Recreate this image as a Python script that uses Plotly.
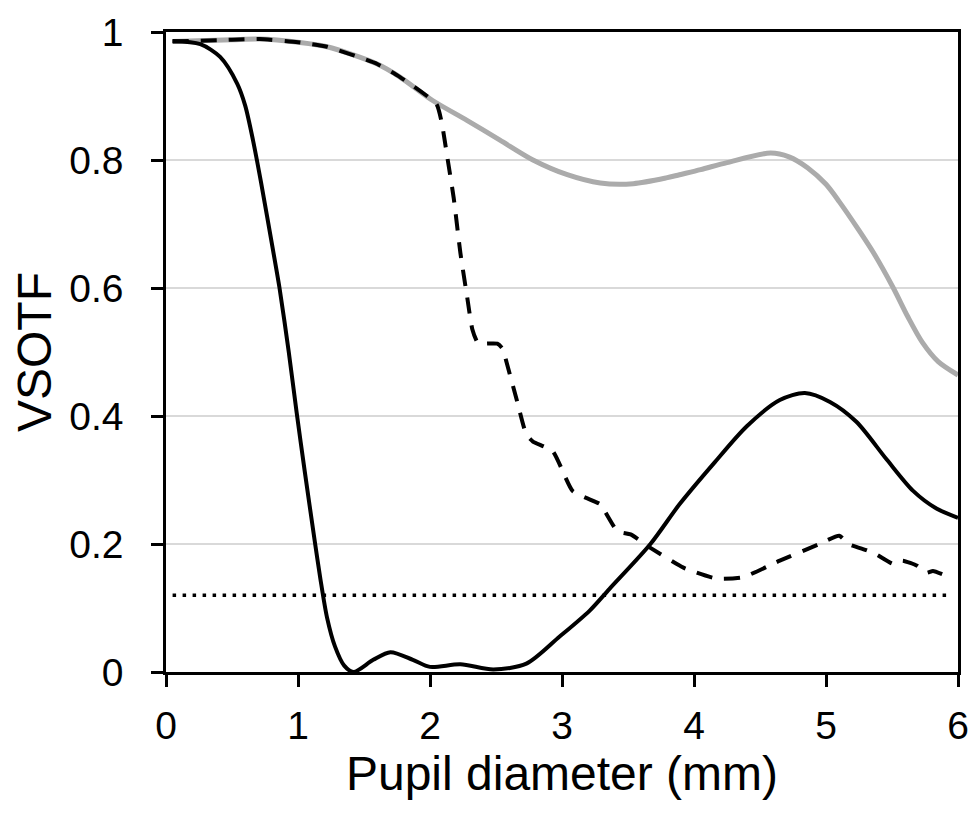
"""VSOTF vs pupil diameter — three optical conditions plus threshold line."""

import plotly.graph_objects as go

# 灰色实线 (gray solid)
GRAY_X = [0.05, 0.5, 0.71, 1.0, 1.22, 1.6, 1.77, 2.02, 2.28, 2.53, 2.78, 3.04, 3.29, 3.54,
          3.79, 3.89, 4.05, 4.25, 4.58, 4.72, 4.86, 5.0, 5.1, 5.25, 5.36, 5.51, 5.62, 5.73,
          5.85, 6.0]
GRAY_Y = [0.985, 0.988, 0.989, 0.984, 0.977, 0.95, 0.93, 0.893, 0.862, 0.831, 0.8, 0.777, 0.764, 0.763,
          0.772, 0.777, 0.785, 0.796, 0.811, 0.805, 0.788, 0.762, 0.735, 0.69, 0.655, 0.6, 0.555, 0.515,
          0.485, 0.464]

# 虚线 (dashed)
DASH_X = [0.05, 0.5, 0.71, 1.0, 1.22, 1.6, 1.77, 2.05, 2.09, 2.13, 2.18, 2.23, 2.28, 2.32, 2.36,
          2.40, 2.51, 2.55, 2.58, 2.66, 2.73, 2.78, 2.93, 3.08, 3.24, 3.29, 3.42, 3.52,
          3.67, 3.92, 4.17, 4.37, 4.65, 4.95, 5.1, 5.17, 5.31, 5.38, 5.51, 5.58, 5.69,
          5.76, 5.81, 5.88]
DASH_Y = [0.985, 0.988, 0.989, 0.984, 0.977, 0.95, 0.93, 0.887, 0.857, 0.806, 0.74, 0.655, 0.588, 0.536, 0.515,
          0.513, 0.513, 0.505, 0.484, 0.423, 0.371, 0.36, 0.345, 0.283, 0.267, 0.262, 0.22, 0.215,
          0.194, 0.163, 0.146, 0.148, 0.174, 0.2, 0.213, 0.2, 0.19, 0.184, 0.169, 0.174, 0.166,
          0.155, 0.158, 0.153]

# 黑色实线 (black solid)
BLACK_X = [0.05, 0.26, 0.41, 0.54, 0.60, 0.66, 0.72, 0.81, 0.86, 0.93, 0.99, 1.05, 1.13, 1.17,
           1.22, 1.28, 1.35, 1.42, 1.57, 1.70, 1.87, 2.0, 2.23, 2.48, 2.73, 2.98, 3.21, 3.36,
           3.67, 3.89, 4.15, 4.40, 4.65, 4.84, 5.03, 5.23, 5.46, 5.66, 5.84, 6.0]
BLACK_Y = [0.986, 0.981, 0.961, 0.919, 0.885, 0.83, 0.765, 0.66, 0.6, 0.5, 0.405, 0.315, 0.2, 0.145,
           0.085, 0.04, 0.01, 0.0, 0.019, 0.031, 0.019, 0.008, 0.012, 0.004, 0.013, 0.055, 0.096, 0.13,
           0.2, 0.262, 0.326, 0.384, 0.425, 0.436, 0.422, 0.391, 0.332, 0.283, 0.255, 0.241]

# 阈值点线 (dotted threshold)
DOT_X = [0.05, 5.95]
DOT_Y = [0.12, 0.12]

Y_TICKS = [0, 0.2, 0.4, 0.6, 0.8, 1]
Y_LABELS = ["0", "0.2", "0.4", "0.6", "0.8", "1"]
X_TICKS = [0, 1, 2, 3, 4, 5, 6]

FONT = "Liberation Sans, Arial, sans-serif"

fig = go.Figure()
fig.add_trace(go.Scatter(x=GRAY_X, y=GRAY_Y, mode="lines",
                         line=dict(color="#ababab", width=5, shape="spline", smoothing=0.8)))
fig.add_trace(go.Scatter(x=DASH_X, y=DASH_Y, mode="lines",
                         line=dict(color="black", width=4, dash="16px,12px", shape="spline", smoothing=0.5)))
fig.add_trace(go.Scatter(x=BLACK_X, y=BLACK_Y, mode="lines",
                         line=dict(color="black", width=4, shape="spline", smoothing=0.8)))
fig.add_trace(go.Scatter(x=DOT_X, y=DOT_Y, mode="lines",
                         line=dict(color="black", width=3.5, dash="3.5px,6.5px")))

# 页面 body 有 8px 默认边距, 所以整体缩小 8px
fig.update_layout(
    width=968, height=805,
    margin=dict(l=158, r=18, t=24, b=141),
    paper_bgcolor="white", plot_bgcolor="white",
    showlegend=False,
    font=dict(family=FONT, color="black"),
    xaxis=dict(
        range=[0, 6], tickvals=X_TICKS, showgrid=False, zeroline=False, automargin=False,
        showline=True, linecolor="black", linewidth=2.5, mirror=True,
        ticks="outside", ticklen=12, tickwidth=2.5, tickcolor="black",
        tickfont=dict(size=39), ticklabelstandoff=5, ticklabeloverflow="allow",
        title=dict(text="Pupil diameter (mm)", font=dict(size=48), standoff=0),
    ),
    yaxis=dict(
        range=[0, 1], tickvals=Y_TICKS, ticktext=Y_LABELS, automargin=False,
        showgrid=True, gridcolor="#d9d9d9", gridwidth=1.5, zeroline=False,
        showline=True, linecolor="black", linewidth=2.5, mirror=True,
        ticks="outside", ticklen=12, tickwidth=2.5, tickcolor="black",
        tickfont=dict(size=39), ticklabelstandoff=20, ticklabeloverflow="allow",
        title=dict(text="VSOTF", font=dict(size=48), standoff=12),
    ),
)

fig.write_html("out.html")
